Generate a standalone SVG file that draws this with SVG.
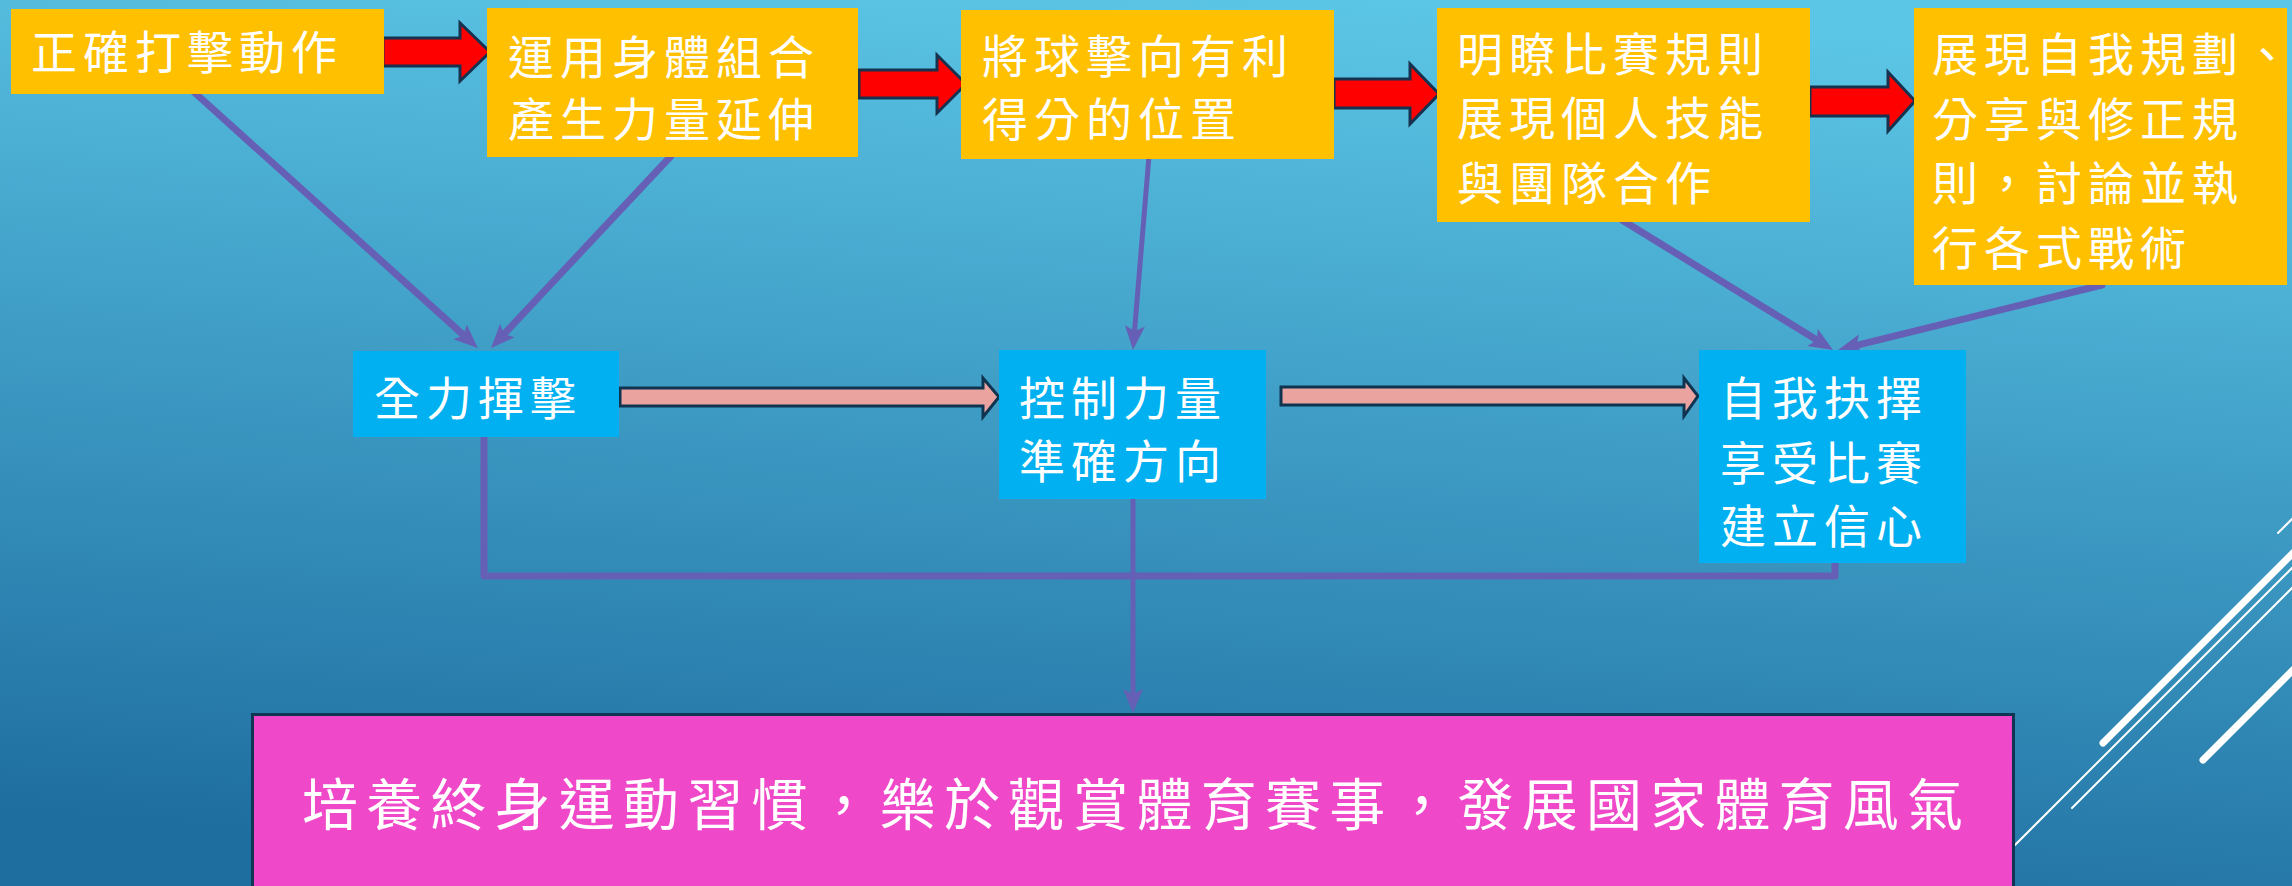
<svg xmlns="http://www.w3.org/2000/svg" width="2292" height="886" viewBox="0 0 2292 886">
<defs>
<linearGradient id="bg" x1="0.6" y1="0" x2="0.4" y2="1">
<stop offset="0" stop-color="#5CC6E6"/>
<stop offset="1" stop-color="#1E6EA0"/>
</linearGradient>
<marker id="ah" markerUnits="userSpaceOnUse" markerWidth="26" markerHeight="22" refX="4" refY="11" orient="auto">
<path d="M0,1 L24,11 L0,21 L5,11 z" fill="#6560B5"/>
</marker>
</defs>
<style>
.t{font-family:"Noto Sans CJK TC","Noto Sans CJK SC",sans-serif;font-size:46px;fill:#FFFFFF;letter-spacing:6px}
.big{font-size:56px;letter-spacing:8.2px}
.yb{fill:#FFC000}
.bb{fill:#00B0F0}
.ra{fill:#FF0000;stroke:#17324E;stroke-width:3;stroke-linejoin:miter}
.pa{fill:#EBA3A0;stroke:#0F3450;stroke-width:3}
.c{fill:none;stroke:#6560B5;stroke-width:7;stroke-linecap:round;stroke-linejoin:round}
.c2{stroke-width:5}
.w{stroke:#FFFFFF;stroke-linecap:round;fill:none}
</style>
<rect x="0" y="0" width="2292" height="886" fill="url(#bg)"/>
<g id="decor">
<line class="w" x1="2103" y1="743" x2="2300" y2="546" stroke-width="7"/>
<line class="w" x1="2015" y1="845" x2="2300" y2="560" stroke-width="2"/>
<line class="w" x1="2072" y1="808" x2="2300" y2="580" stroke-width="2"/>
<line class="w" x1="2278" y1="533" x2="2300" y2="511" stroke-width="2"/>
<line class="w" x1="2203" y1="760" x2="2300" y2="663" stroke-width="7"/>
</g>
<g id="connectors">
<line class="c" x1="194" y1="92" x2="463" y2="334.6" marker-end="url(#ah)"/>
<line class="c" x1="671" y1="156" x2="504.7" y2="333.4" marker-end="url(#ah)"/>
<line class="c c2" x1="1149" y1="156" x2="1134.6" y2="330" marker-end="url(#ah)"/>
<line class="c" x1="1622" y1="220" x2="1816" y2="339.5" marker-end="url(#ah)"/>
<line class="c" x1="2102" y1="285" x2="1857.4" y2="345.2" marker-end="url(#ah)"/>
<path class="c" d="M484,436 V576 H1835 V562"/>
<line class="c c2" x1="1133" y1="499" x2="1133" y2="693" marker-end="url(#ah)"/>
<polygon class="ra" points="383,38 460,38 460,23 490,52 460,81 460,66 383,66"/>
<polygon class="ra" points="859,70 937,70 937,55 966,84 937,113 937,98 859,98"/>
<polygon class="ra" points="1334,79 1410,79 1410,64 1439,94 1410,124 1410,108 1334,108"/>
<polygon class="ra" points="1810,87 1888,87 1888,72 1915,101 1888,131 1888,116 1810,116"/>
<polygon class="pa" points="620,388 983,388 983,378 999,397 983,417 983,406 620,406"/>
<polygon class="pa" points="1281,387 1684,387 1684,378 1698,396 1684,416 1684,405 1281,405"/>
</g>
<g id="n1">
<rect class="yb" x="11" y="9" width="373" height="85"/>
<text class="t" x="31" y="69">正確打擊動作</text>
</g>
<g id="n2">
<rect class="yb" x="487" y="8" width="371" height="149"/>
<text class="t" x="508" y="74">運用身體組合</text>
<text class="t" x="508" y="136">產生力量延伸</text>
</g>
<g id="n3">
<rect class="yb" x="961" y="10" width="373" height="149"/>
<text class="t" x="982" y="73">將球擊向有利</text>
<text class="t" x="982" y="136">得分的位置</text>
</g>
<g id="n4">
<rect class="yb" x="1437" y="8" width="373" height="214"/>
<text class="t" x="1457" y="71">明瞭比賽規則</text>
<text class="t" x="1457" y="135">展現個人技能</text>
<text class="t" x="1457" y="200">與團隊合作</text>
</g>
<g id="n5">
<rect class="yb" x="1914" y="8" width="373" height="277"/>
<text class="t" x="1932" y="71">展現自我規劃、</text>
<text class="t" x="1932" y="136">分享與修正規</text>
<text class="t" x="1932" y="200">則，討論並執</text>
<text class="t" x="1932" y="265">行各式戰術</text>
</g>
<g id="nA">
<rect class="bb" x="353" y="351" width="266" height="86"/>
<text class="t" x="374" y="415">全力揮擊</text>
</g>
<g id="nB">
<rect class="bb" x="999" y="350" width="267" height="149"/>
<text class="t" x="1019" y="415">控制力量</text>
<text class="t" x="1019" y="478">準確方向</text>
</g>
<g id="nC">
<rect class="bb" x="1699" y="350" width="267" height="213"/>
<text class="t" x="1720" y="415">自我抉擇</text>
<text class="t" x="1720" y="480">享受比賽</text>
<text class="t" x="1720" y="543">建立信心</text>
</g>
<g id="goal">
<rect x="252.5" y="714.5" width="1761" height="180" fill="#EF48C8" stroke="#0E3552" stroke-width="3"/>
<text class="t big" x="302" y="825">培養終身運動習慣，樂於觀賞體育賽事，發展國家體育風氣</text>
</g>
</svg>
